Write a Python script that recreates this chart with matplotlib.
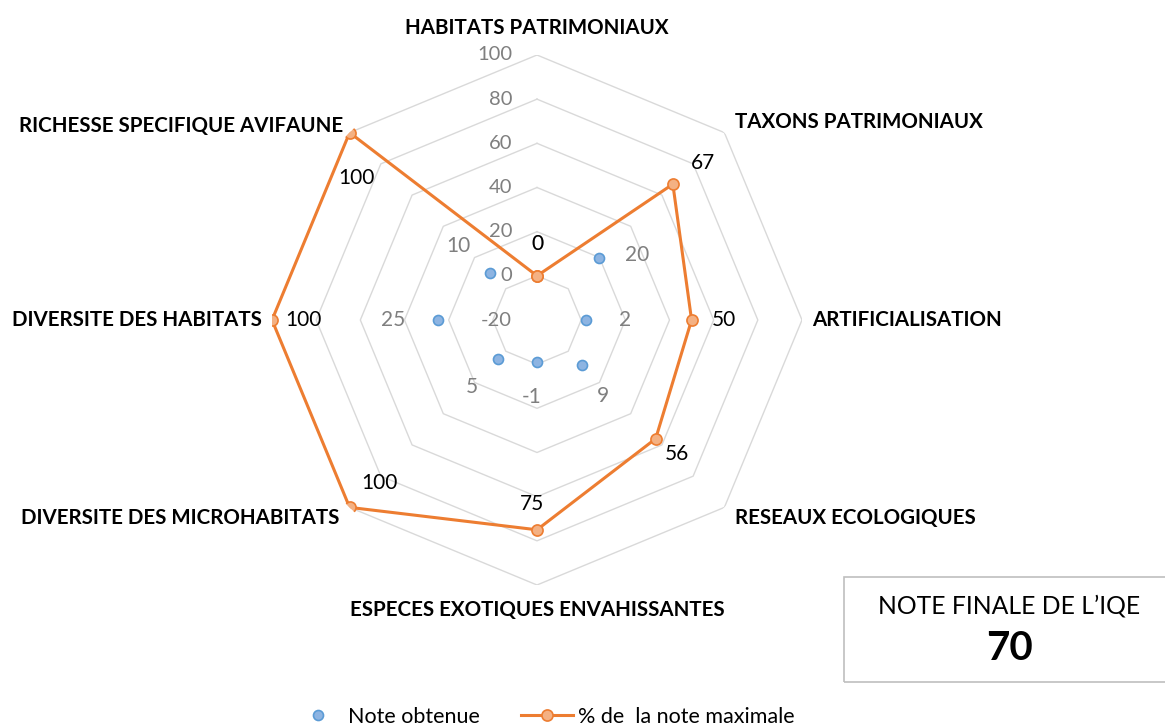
import numpy as np
import matplotlib
matplotlib.use('Agg')
import matplotlib.pyplot as plt
from matplotlib.lines import Line2D
from matplotlib.patches import Rectangle

plt.rcParams['font.family'] = ['Lato', 'DejaVu Sans']

#%% DATA
# ----------------------
categories = ['HABITATS PATRIMONIAUX', 'TAXONS PATRIMONIAUX', 'ARTIFICIALISATION',
              'RESEAUX ECOLOGIQUES', 'ESPECES EXOTIQUES ENVAHISSANTES',
              'DIVERSITE DES MICROHABITATS', 'DIVERSITE DES HABITATS',
              'RICHESSE SPECIFIQUE AVIFAUNE']
note_obtenue = [0, 20, 2, 9, -1, 5, 25, 10]
pct_note_max = [0, 67, 50, 56, 75, 100, 100, 100]
grid_levels = [-20, 0, 20, 40, 60, 80, 100]
note_finale = 70
# ----------------------

#%% STYLE
# ----------------------
blue_face, blue_edge = '#8DB4E2', '#5B9BD5'
orange_face, orange_edge = '#F4B183', '#ED7D31'
grid_col = '#D9D9D9'
tick_col = '#7F7F7F'
# label offsets in pixels (dx, dy) for each point
blue_off = [(0, 32), (38, 3), (39, 0), (21, -31), (-5, -35), (-26, -28), (-45, 0), (-32, 27)]
orange_off = [(0, 32), (30, 21), (32, 0), (21, -15), (-5, 26), (30, 24), (31, 0), (7, -45)]
# category label radius and alignment
cat_r = [112, 107, 104.5, 107, 111.5, 106.5, 104.5, 104]
cat_ha = ['center', 'left', 'left', 'left', 'center', 'right', 'right', 'right']
# ----------------------

n = len(categories)
theta = np.arange(n) * 2 * np.pi / n
theta_c = np.append(theta, theta[0])

fig = plt.figure(figsize=(11.65, 7.27), dpi=100)
W, H = 1165, 727
cx, cy, R = 537, 320, 265
ax = fig.add_axes([(cx - R) / W, (H - cy - R) / H, 2 * R / W, 2 * R / H], projection='polar')
ax.set_theta_zero_location('N')
ax.set_theta_direction(-1)
ax.set_ylim(grid_levels[0], grid_levels[-1])
ax.grid(False)
ax.set_xticks([])
ax.set_yticks([])
ax.spines['polar'].set_visible(False)
ax.patch.set_visible(False)

# octagonal gridlines
for lev in grid_levels[1:]:
    ax.plot(theta_c, [lev] * (n + 1), color=grid_col, lw=1.0, zorder=1)

# radial tick labels along the top axis
for lev in grid_levels:
    ax.annotate(str(lev), (0, lev), xytext=(-25, 0), textcoords='offset pixels',
                ha='right', va='center', color=tick_col, fontsize=14.5, annotation_clip=False)

# series
ax.plot(theta, note_obtenue, ls='none', marker='o', ms=7.2, mfc=blue_face,
        mec=blue_edge, mew=1.2, zorder=4)
ax.plot(theta_c, pct_note_max + pct_note_max[:1], color=orange_edge, lw=2.2,
        marker='o', ms=8, mfc=orange_face, mec=orange_edge, mew=1.2, zorder=5)

# data labels
for t, v, (dx, dy) in zip(theta, note_obtenue, blue_off):
    ax.annotate(str(v), (t, v), xytext=(dx, dy), textcoords='offset pixels',
                ha='center', va='center', color=tick_col, fontsize=15, zorder=6)
for t, v, (dx, dy) in zip(theta, pct_note_max, orange_off):
    ax.annotate(str(v), (t, v), xytext=(dx, dy), textcoords='offset pixels',
                ha='center', va='center', color='black', fontsize=15, zorder=7)

# category labels
for t, lab, r, ha in zip(theta, categories, cat_r, cat_ha):
    ax.text(t, r, lab, ha=ha, va='center', fontsize=14.8, fontweight='bold', color='black')

# final score box
fig.patches.append(Rectangle((844 / W, 1 - 682 / H), 0.5, (682 - 577) / H,
                             transform=fig.transFigure, fill=False,
                             edgecolor='#BFBFBF', lw=1.2))
fig.text(1009 / W, 1 - 606 / H, "NOTE FINALE DE L\u2019IQE", ha='center', va='center',
         fontsize=17.8)
fig.text(1009 / W, 1 - 649 / H, str(note_finale), ha='center', va='center',
         fontsize=29, fontweight='bold')

# legend
handles = [Line2D([], [], ls='none', marker='o', ms=7.2, mfc=blue_face, mec=blue_edge, mew=1.2),
           Line2D([], [], color=orange_edge, lw=2.2, marker='o', ms=8, mfc=orange_face,
                  mec=orange_edge, mew=1.2)]
fig.legend(handles, ['Note obtenue', '% de  la note maximale'], loc='center',
           bbox_to_anchor=(543 / W, 1 - 717 / H), ncol=2, frameon=False, fontsize=15.5,
           handlelength=2.4, columnspacing=1.9, handletextpad=0.23)

fig.savefig('out.png', dpi=100)
